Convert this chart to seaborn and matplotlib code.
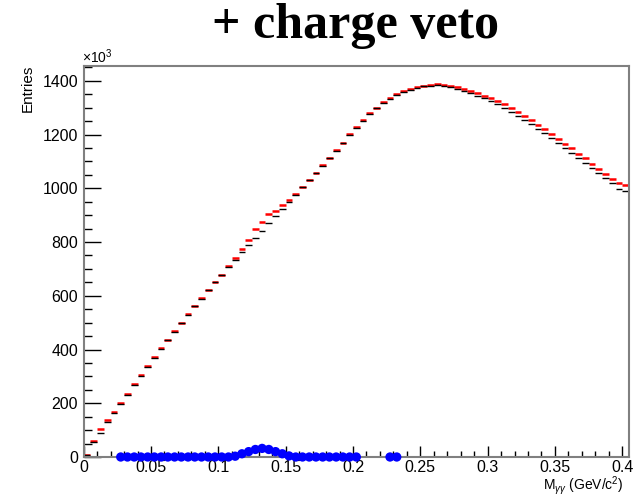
import numpy as np
import pandas as pd
import matplotlib
matplotlib.use("Agg")
import matplotlib.pyplot as plt
import seaborn as sns
from matplotlib.ticker import MultipleLocator, FuncFormatter

# bin centres of M_gg (GeV/c^2), width 0.005
bin_width = 0.005
mass = [0.0025 + 0.005 * i for i in range(81)]

# entries (x10^3) - black histogram
entries_black = [7, 57, 88, 131, 163, 196, 232, 268, 303, 335,
                 370, 401, 434, 467, 498, 529, 561, 589, 620, 650,
                 678, 706, 733, 761, 789, 814, 841, 870, 895, 922,
                 948, 974, 1003, 1030, 1056, 1083, 1111, 1140, 1168, 1199,
                 1226, 1251, 1277, 1298, 1317, 1333, 1348, 1359, 1367, 1374,
                 1379, 1382, 1384, 1381, 1377, 1371, 1363, 1355, 1345, 1335,
                 1324, 1312, 1299, 1284, 1270, 1254, 1238, 1221, 1204, 1187,
                 1169, 1150, 1131, 1112, 1094, 1075, 1056, 1037, 1018, 999, 988]

# entries (x10^3) - red histogram
entries_red = [8, 61, 103, 137, 166, 202, 235, 270, 305, 338,
               372, 404, 436, 469, 500, 531, 563, 591, 622, 652,
               679, 711, 740, 774, 808, 848, 876, 903, 916, 936,
               957, 979, 1006, 1032, 1058, 1085, 1113, 1142, 1170, 1201,
               1228, 1253, 1279, 1300, 1320, 1336, 1351, 1362, 1370, 1377,
               1382, 1385, 1387, 1385, 1382, 1377, 1370, 1363, 1354, 1345,
               1335, 1324, 1312, 1298, 1284, 1269, 1253, 1237, 1220, 1203,
               1185, 1166, 1148, 1129, 1111, 1092, 1073, 1054, 1036, 1018, 1012]

# difference points (x10^3), blue
diff_mass = [0.0275 + 0.005 * i for i in range(36)] + [0.2275, 0.2325]
diff_vals = [0, 0, 0, 0, 0, 0, 0, 0, 0, 0,
             0, 0, 0, 0, 0, 0, 0, 3, 12, 20,
             28, 32, 28, 20, 12, 4, 0, 0, 0, 0,
             0, 0, 0, 0, 0, 0, 0, 0]

df_black = pd.DataFrame({"mass": mass, "entries": entries_black})
df_red = pd.DataFrame({"mass": mass, "entries": entries_red})
df_diff = pd.DataFrame({"mass": diff_mass, "entries": diff_vals})

sns.set_style("ticks")
plt.rcParams["font.family"] = ["Liberation Sans", "DejaVu Sans"]
plt.rcParams["mathtext.fontset"] = "custom"
plt.rcParams["mathtext.rm"] = "Liberation Sans"
plt.rcParams["mathtext.it"] = "Liberation Sans:italic"
for key in ["text.color", "axes.labelcolor", "xtick.color", "ytick.color"]:
    plt.rcParams[key] = "black"

fig = plt.figure(figsize=(6.33, 4.96), dpi=100)
ax = fig.add_axes([83.7 / 633, 39 / 496, (629 - 83.7) / 633, (457 - 66) / 496])

# histogram bins drawn as horizontal segments
ax.hlines(df_red["entries"], df_red["mass"] - bin_width / 2, df_red["mass"] + bin_width / 2,
          color="red", linewidth=1.8)
ax.hlines(df_black["entries"], df_black["mass"] - bin_width / 2, df_black["mass"] + bin_width / 2,
          color="black", linewidth=1.0)

sns.scatterplot(data=df_diff, x="mass", y="entries", ax=ax, color="#0000ff",
                s=45, edgecolor="none", clip_on=False, zorder=5, legend=False)

ax.set_xlim(0, 0.405)
ax.set_ylim(0, 1455)
ax.set_xlabel("")
ax.set_ylabel("")

ax.xaxis.set_major_locator(MultipleLocator(0.05))
ax.xaxis.set_minor_locator(MultipleLocator(0.01))
ax.yaxis.set_major_locator(MultipleLocator(200))
ax.yaxis.set_minor_locator(MultipleLocator(50))
ax.xaxis.set_major_formatter(FuncFormatter(lambda v, p: "%g" % round(v, 3)))
ax.yaxis.set_major_formatter(FuncFormatter(lambda v, p: "%d" % v))

ax.tick_params(axis="y", which="major", direction="in", length=12, width=1, labelsize=11.5, pad=4)
ax.tick_params(axis="y", which="minor", direction="in", length=6, width=1)
ax.tick_params(axis="x", which="major", direction="in", length=8, width=1, labelsize=11.5, pad=2)
ax.tick_params(axis="x", which="minor", direction="in", length=4.3, width=1)

for s in ax.spines.values():
    s.set_color("#808080")
    s.set_linewidth(1.5)

fig.text(356 / 633, 1 - 38 / 496, "+ charge veto", ha="center", va="baseline",
         fontsize=36, fontweight="bold", color="black",
         family=["Liberation Serif", "DejaVu Serif"])
fig.text(28 / 633, 1 - 65 / 496, "Entries", rotation=90, ha="center", va="top", fontsize=11)
fig.text(82 / 633, 1 - 66 / 496, r"$\times$10$^{3}$", ha="left", va="bottom", fontsize=10)
fig.text(624 / 633, 1 - 474 / 496, r"M$_{\gamma\gamma}$ (GeV/c$^{2}$)", ha="right", va="top", fontsize=10)

fig.savefig("out.png", dpi=100)
